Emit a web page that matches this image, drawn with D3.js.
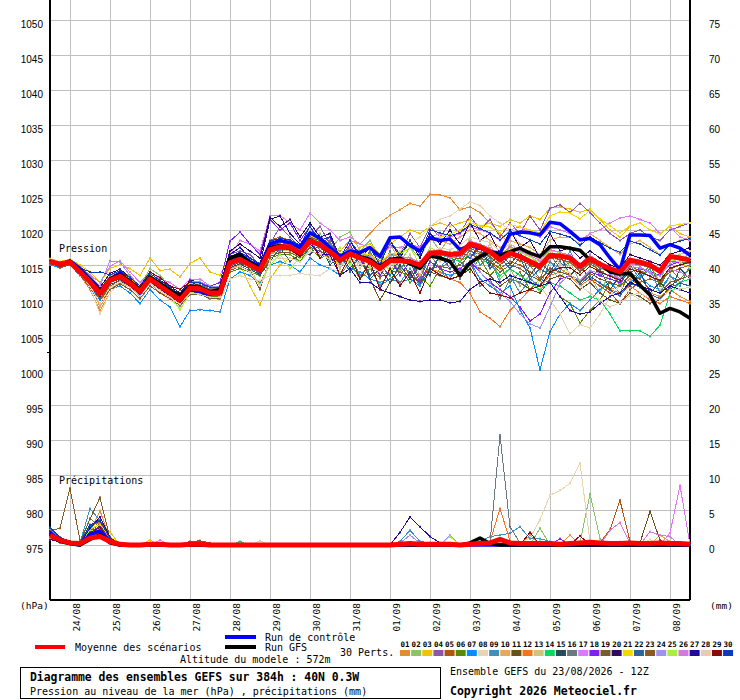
<!DOCTYPE html>
<html>
<head>
<meta charset="utf-8">
<script src="https://cdn.jsdelivr.net/npm/d3@7"></script>
<style>
body { margin: 0; background: #fff; }
svg { display: block; }
</style>
</head>
<body>
<div id="chart"></div>
<script>
// forecast steps every 6h, 0..384h from 23/08 12Z
const dayLabels = ["24/08","25/08","26/08","27/08","28/08","29/08","30/08","31/08",
  "01/09","02/09","03/09","04/09","05/09","06/09","07/09","08/09"]

const pertColors = ["#e88a33","#8ac46a","#f2c200","#8e55aa","#b5540c","#5a8a0a","#0a8cff","#e8d5b0",
  "#3a90c0","#e8a858","#6a5018","#f87020","#d4c080","#0ad860","#284a5a","#6a7880","#e078f8","#8020f0",
  "#7a5a30","#30086a","#f2d800","#2a64a0","#8a5a20","#a090f0","#a8f040","#d878d8","#200a9a","#e0d0b0",
  "#8a0a0a","#0a3cba"]

const pressMean = [
  1015.5,1015.1,1015.4,1014.0,1012.6,1010.9,1012.8,1013.4,1012.4,1011.2,1013.0,1012.0,1011.0,
  1010.0,1011.7,1011.6,1011.0,1011.0,1015.3,1015.8,1015.0,1014.3,1017.2,1017.6,1017.6,1016.7,
  1018.4,1017.9,1016.9,1015.7,1016.6,1016.0,1015.5,1014.5,1015.6,1015.6,1015.5,1015.0,1016.7,
  1016.8,1016.5,1016.6,1018.0,1017.6,1016.9,1015.7,1016.7,1016.2,1015.5,1014.8,1016.4,1016.3,
  1016.0,1014.8,1015.9,1015.1,1014.5,1014.0,1015.7,1015.4,1015.0,1014.1,1016.2,1016.0,1015.7]

const pressControl = [
  1015.5,1015.0,1015.6,1014.5,1013.0,1011.0,1013.0,1013.8,1012.5,1011.0,1013.2,1012.0,1011.2,
  1010.2,1011.5,1011.2,1010.8,1011.5,1015.5,1016.5,1015.5,1014.8,1018.0,1018.5,1018.2,1017.5,
  1019.6,1018.8,1017.5,1016.2,1017.0,1016.8,1017.5,1016.2,1018.9,1019.0,1017.8,1017.0,1018.9,
  1018.5,1018.7,1017.2,1017.8,1017.4,1016.9,1016.7,1019.4,1019.7,1019.6,1019.3,1021.1,1020.9,
  1019.8,1018.6,1018.8,1017.9,1016.0,1014.3,1019.3,1019.3,1019.2,1017.4,1017.9,1017.4,1016.4]

const pressGFS = [
  1015.5,1015.2,1015.5,1014.2,1012.8,1011.2,1013.0,1013.6,1012.7,1011.5,1013.3,1012.4,1011.4,
  1010.6,1012.0,1011.8,1011.2,1011.5,1016.0,1016.5,1015.3,1014.6,1017.5,1017.8,1017.5,1016.5,
  1018.6,1017.8,1016.8,1015.6,1016.5,1016.2,1015.8,1014.8,1015.8,1016.0,1015.2,1014.5,1016.3,
  1016.0,1015.5,1013.5,1015.3,1016.2,1016.9,1016.4,1016.9,1017.4,1016.7,1016.2,1017.6,1017.6,
  1017.4,1017.1,1015.7,1015.2,1014.0,1013.7,1013.8,1012.1,1010.7,1008.1,1008.8,1008.3,1007.4]

const pressPerts = [
  [1015.3,1014.8,1015.2,1013.5,1011.5,1008.5,1011.0,1012.5,1012.0,1010.5,1012.5,1011.0,1010.5,
   1009.5,1011.0,1011.0,1010.5,1010.0,1014.5,1015.0,1014.5,1013.5,1016.5,1017.5,1017.0,1016.5,
   1018.5,1018.0,1017.5,1017.0,1018.5,1018.0,1019.5,1021.0,1022.1,1022.9,1023.8,1023.4,1025.1,
   1025.0,1024.6,1022.9,1023.3,1022.5,1021.0,1019.5,1018.0,1017.0,1016.5,1015.0,1015.5,1014.5,
   1013.5,1012.0,1013.0,1012.5,1011.5,1012.0,1013.0,1012.0,1011.0,1010.5,1011.5,1010.5,1009.8],
  [1015.8,1015.3,1015.6,1014.5,1013.5,1011.5,1013.5,1014.0,1013.5,1012.0,1014.5,1013.5,1012.0,
   1011.0,1012.5,1012.0,1011.5,1011.0,1015.0,1016.0,1015.5,1014.0,1016.5,1017.0,1017.5,1016.0,
   1018.0,1019.5,1017.0,1019.0,1019.7,1017.0,1018.5,1016.0,1018.0,1015.5,1017.5,1016.0,1019.0,
   1017.0,1019.0,1016.5,1018.5,1015.0,1016.5,1013.0,1014.5,1012.0,1013.5,1011.0,1014.5,1013.0,
   1015.5,1012.5,1013.5,1011.0,1014.0,1012.0,1015.5,1013.5,1015.0,1012.5,1016.5,1015.0,1017.0],
  [1015.9,1015.5,1015.8,1015.0,1014.0,1012.5,1014.5,1015.0,1014.5,1013.5,1016.0,1014.2,1014.4,
   1013.3,1015.2,1016.0,1014.0,1013.5,1016.5,1015.0,1012.0,1009.3,1013.0,1015.0,1016.0,1015.5,
   1017.0,1016.5,1016.0,1015.0,1016.0,1017.5,1018.0,1016.5,1018.0,1019.0,1020.0,1019.5,1020.5,
   1021.0,1020.5,1021.0,1021.5,1020.5,1021.0,1020.5,1021.5,1021.0,1022.0,1021.5,1023.1,1023.3,
   1023.0,1022.5,1023.0,1021.5,1020.0,1019.0,1020.5,1021.0,1020.0,1019.5,1020.5,1019.5,1019.0],
  [1015.6,1015.0,1015.3,1014.2,1012.8,1011.2,1013.5,1014.0,1012.8,1011.5,1013.5,1012.5,1011.5,
   1010.5,1012.5,1012.5,1011.5,1011.5,1016.5,1017.0,1016.5,1015.0,1018.0,1020.5,1019.0,1017.5,
   1019.0,1020.5,1018.0,1016.0,1018.5,1016.0,1017.5,1015.5,1018.0,1016.5,1019.5,1017.5,1020.5,
   1019.0,1021.0,1019.5,1022.0,1020.0,1021.5,1019.0,1021.0,1019.5,1022.0,1020.0,1023.1,1023.6,
   1022.5,1023.8,1022.5,1021.0,1019.5,1018.5,1019.5,1020.0,1019.0,1018.5,1020.0,1020.5,1021.0],
  [1015.4,1015.0,1015.2,1013.8,1012.2,1010.0,1012.0,1012.8,1011.8,1010.5,1012.5,1011.5,1010.5,
   1009.5,1011.0,1011.0,1010.5,1010.5,1015.0,1016.5,1015.5,1015.0,1018.5,1019.0,1018.5,1017.5,
   1019.5,1019.0,1018.0,1016.5,1017.5,1016.5,1015.5,1014.5,1015.0,1015.5,1015.0,1014.5,1016.0,
   1016.5,1016.0,1015.5,1017.0,1016.5,1015.5,1014.5,1015.5,1015.0,1014.0,1013.0,1014.5,1014.0,
   1013.5,1012.0,1013.0,1012.0,1011.0,1009.5,1011.5,1012.5,1013.0,1012.5,1014.0,1014.5,1015.0],
  [1015.2,1014.8,1015.0,1013.5,1012.0,1010.5,1012.5,1013.0,1012.0,1011.0,1012.8,1011.8,1011.0,
   1009.8,1011.5,1011.0,1010.5,1010.5,1014.0,1014.5,1014.0,1013.5,1016.0,1016.5,1016.5,1015.5,
   1017.5,1016.0,1016.5,1013.5,1015.5,1013.0,1014.5,1012.0,1013.0,1014.5,1012.5,1013.5,1012.0,
   1014.5,1013.0,1015.5,1014.0,1016.0,1013.5,1015.0,1012.5,1014.0,1011.5,1013.0,1012.5,1010.5,
   1009.5,1006.7,1008.5,1010.0,1012.5,1011.0,1014.0,1013.0,1015.0,1012.0,1014.5,1013.0,1014.5],
  [1015.0,1014.6,1015.0,1013.5,1012.0,1010.0,1011.5,1012.0,1011.0,1009.5,1011.5,1010.0,1009.0,
   1006.2,1008.5,1008.6,1008.5,1008.3,1013.0,1014.0,1013.5,1012.5,1015.0,1015.5,1015.0,1014.0,
   1016.0,1015.0,1014.5,1013.5,1014.5,1014.0,1013.0,1012.5,1013.0,1012.5,1013.0,1012.0,1014.5,
   1014.0,1013.5,1014.0,1015.5,1013.0,1012.0,1011.0,1012.0,1008.6,1006.0,1000.0,1005.5,1008.0,
   1009.5,1008.5,1010.0,1011.5,1012.5,1011.0,1012.5,1013.5,1012.0,1011.5,1013.5,1012.5,1012.0],
  [1015.3,1014.9,1015.2,1013.5,1011.8,1008.0,1011.0,1012.5,1011.5,1010.0,1012.0,1011.0,1010.0,
   1009.0,1011.0,1011.0,1010.0,1010.0,1013.0,1013.5,1013.0,1012.8,1013.5,1013.5,1013.5,1013.8,
   1013.6,1013.5,1014.5,1014.0,1015.0,1015.5,1016.0,1015.0,1016.5,1017.0,1018.0,1019.0,1020.5,
   1021.5,1022.0,1023.0,1024.0,1023.5,1022.0,1021.0,1020.0,1018.0,1015.0,1012.0,1010.0,1008.0,
   1005.2,1006.5,1006.0,1008.0,1010.5,1012.0,1011.0,1010.0,1011.0,1011.5,1013.0,1012.5,1012.0],
  [1015.6,1015.2,1015.5,1014.3,1013.0,1011.5,1013.0,1013.8,1012.8,1011.5,1013.5,1012.5,1011.5,
   1010.5,1012.0,1012.0,1011.5,1011.5,1015.5,1016.0,1015.0,1014.5,1017.5,1018.0,1018.0,1017.0,
   1019.0,1017.5,1018.0,1014.5,1016.5,1013.5,1015.0,1012.0,1014.0,1012.5,1014.5,1012.0,1015.5,
   1014.5,1016.5,1014.0,1017.5,1015.0,1016.0,1012.5,1013.5,1011.0,1013.0,1012.0,1015.5,1014.0,
   1017.0,1014.0,1016.5,1013.5,1015.0,1012.0,1015.0,1013.0,1014.5,1011.0,1013.5,1012.0,1015.0],
  [1015.4,1015.1,1015.3,1013.8,1012.3,1009.0,1011.5,1012.5,1011.8,1010.5,1012.5,1011.5,1010.5,
   1009.5,1011.0,1011.5,1011.0,1010.5,1015.5,1016.5,1015.0,1014.0,1017.0,1017.5,1018.0,1017.0,
   1018.5,1018.5,1017.5,1016.5,1017.0,1016.5,1016.5,1015.5,1016.5,1016.5,1017.5,1017.0,1018.5,
   1018.5,1018.0,1019.0,1020.0,1019.5,1018.5,1017.5,1018.5,1018.0,1017.5,1016.5,1018.5,1019.0,
   1019.0,1018.0,1019.5,1018.5,1017.5,1016.5,1018.0,1018.5,1017.5,1016.5,1018.0,1018.5,1019.0],
  [1015.5,1015.0,1015.4,1014.0,1012.5,1010.5,1012.5,1013.0,1012.0,1011.0,1012.8,1011.5,1010.8,
   1009.8,1011.5,1011.5,1011.0,1011.0,1015.5,1016.0,1015.0,1014.5,1017.5,1018.5,1018.0,1017.0,
   1019.5,1018.5,1017.0,1015.5,1016.5,1016.0,1013.0,1010.0,1012.5,1014.0,1013.5,1012.5,1014.0,
   1013.5,1013.0,1013.5,1015.0,1014.5,1013.5,1012.0,1013.0,1012.5,1011.5,1011.0,1013.0,1013.5,
   1013.0,1011.5,1012.5,1011.0,1010.0,1009.5,1011.0,1010.5,1009.5,1010.0,1012.0,1013.0,1013.5],
  [1015.5,1015.1,1015.4,1014.2,1012.8,1011.0,1013.0,1013.5,1012.5,1011.2,1013.0,1012.0,1011.0,
   1010.0,1011.8,1011.5,1011.0,1011.0,1015.5,1016.0,1015.0,1014.5,1017.5,1018.0,1017.5,1016.5,
   1018.5,1018.0,1017.0,1016.0,1016.5,1016.0,1015.5,1014.5,1015.0,1014.5,1014.0,1013.5,1014.5,
   1014.0,1013.0,1012.5,1011.0,1008.3,1007.4,1006.2,1008.5,1010.0,1011.5,1012.0,1013.5,1014.0,
   1013.5,1012.0,1013.0,1012.5,1011.5,1011.0,1012.0,1011.0,1010.0,1009.5,1010.5,1010.0,1009.5],
  [1015.4,1015.0,1015.3,1013.8,1012.4,1010.5,1012.5,1013.2,1012.2,1011.0,1012.8,1011.8,1010.8,
   1009.8,1011.5,1011.3,1010.8,1010.8,1014.8,1015.5,1014.8,1014.0,1016.8,1017.2,1017.0,1016.2,
   1018.5,1016.5,1017.5,1014.5,1017.0,1014.5,1016.5,1013.0,1016.5,1014.0,1016.5,1013.5,1017.0,
   1015.5,1017.0,1015.5,1019.0,1016.0,1018.0,1015.0,1018.0,1015.5,1017.0,1014.0,1017.5,1015.0,
   1015.5,1014.0,1015.5,1014.5,1014.0,1013.5,1015.0,1015.5,1015.0,1014.5,1016.0,1016.5,1017.0],
  [1015.6,1015.2,1015.5,1014.2,1012.8,1011.2,1013.2,1013.8,1012.8,1011.5,1013.3,1012.3,1011.3,
   1010.3,1012.0,1012.0,1011.3,1011.3,1015.5,1016.2,1015.3,1014.8,1017.8,1018.3,1018.0,1017.2,
   1019.0,1018.3,1017.3,1016.0,1017.0,1016.5,1016.0,1015.0,1016.0,1016.0,1015.5,1015.0,1016.5,
   1016.5,1016.0,1015.5,1016.5,1016.0,1015.0,1013.5,1014.5,1013.5,1012.5,1011.5,1012.5,1012.0,
   1011.0,1010.0,1010.5,1010.0,1008.0,1005.6,1005.6,1005.6,1004.8,1006.4,1011.0,1012.5,1013.0],
  [1015.3,1014.9,1015.2,1013.7,1012.2,1010.2,1012.2,1012.8,1011.8,1010.6,1012.4,1011.4,1010.4,
   1009.4,1011.2,1011.0,1010.4,1010.4,1014.6,1015.2,1014.4,1013.6,1015.5,1017.5,1015.5,1016.5,
   1016.5,1018.0,1015.0,1016.5,1014.5,1016.5,1013.0,1014.5,1012.5,1015.0,1013.0,1015.0,1013.5,
   1016.5,1014.5,1017.0,1016.0,1018.0,1015.0,1017.0,1015.0,1017.0,1013.5,1015.5,1014.0,1016.5,
   1013.5,1015.0,1013.0,1014.5,1011.5,1013.5,1012.0,1014.0,1011.0,1012.5,1011.0,1014.5,1013.0],
  [1015.5,1015.2,1015.5,1014.2,1012.8,1011.4,1013.4,1014.0,1013.0,1011.8,1013.6,1012.6,1011.6,
   1010.6,1012.4,1012.2,1011.6,1011.6,1015.8,1016.4,1015.6,1014.8,1017.8,1018.4,1018.2,1017.4,
   1019.5,1017.0,1018.5,1015.0,1018.0,1015.0,1017.0,1014.0,1017.0,1014.5,1016.0,1013.0,1016.5,
   1014.5,1015.5,1013.0,1015.5,1012.0,1013.0,1010.2,1013.0,1012.5,1015.0,1013.0,1016.5,1014.5,
   1015.4,1014.2,1015.4,1014.6,1014.0,1013.4,1015.2,1015.0,1014.6,1014.0,1015.6,1015.4,1015.2],
  [1015.7,1015.3,1015.7,1014.6,1013.6,1012.5,1014.8,1015.6,1014.0,1012.5,1014.0,1013.0,1012.5,
   1011.5,1013.0,1013.0,1012.0,1012.0,1016.5,1018.5,1018.0,1017.0,1022.0,1022.1,1021.0,1020.0,
   1022.4,1021.0,1020.0,1018.5,1019.0,1018.0,1017.5,1016.5,1017.5,1017.5,1018.0,1017.5,1019.0,
   1019.5,1019.0,1019.5,1020.5,1020.0,1019.5,1018.5,1020.0,1020.5,1019.5,1019.0,1020.5,1020.0,
   1019.5,1018.5,1019.5,1020.0,1021.0,1021.7,1022.0,1021.5,1021.0,1019.5,1020.5,1019.0,1018.5],
  [1015.5,1015.0,1015.3,1014.0,1012.7,1011.0,1013.0,1013.6,1012.6,1011.4,1013.2,1012.2,1011.4,
   1010.4,1012.2,1012.4,1012.0,1012.5,1018.4,1019.7,1018.0,1016.5,1021.5,1020.0,1021.0,1018.5,
   1020.5,1018.0,1019.0,1015.5,1018.0,1015.0,1016.5,1013.5,1016.0,1013.5,1015.5,1012.5,1015.5,
   1014.5,1014.0,1014.5,1015.5,1014.0,1012.5,1011.5,1010.5,1009.0,1007.0,1008.0,1011.0,1013.0,
   1013.5,1012.5,1014.0,1013.5,1013.0,1012.5,1014.0,1014.5,1014.0,1013.5,1015.0,1015.5,1016.0],
  [1015.3,1014.7,1015.0,1013.6,1011.8,1009.5,1011.5,1012.3,1011.5,1010.2,1012.0,1011.0,1010.2,
   1009.2,1010.8,1010.8,1010.2,1010.2,1014.2,1014.8,1014.2,1011.5,1016.2,1016.8,1016.8,1016.0,
   1017.5,1017.0,1016.0,1014.8,1015.8,1015.2,1014.5,1013.2,1014.2,1014.0,1013.5,1012.8,1014.5,
   1014.8,1014.5,1015.0,1016.5,1016.0,1015.5,1014.0,1015.0,1014.5,1013.5,1012.8,1014.5,1014.0,
   1013.5,1012.5,1013.8,1013.0,1012.5,1012.0,1013.5,1013.0,1011.5,1011.0,1012.5,1013.0,1013.5],
  [1015.6,1015.2,1015.6,1014.4,1013.2,1011.8,1013.8,1014.4,1013.2,1012.0,1013.8,1012.8,1012.0,
   1011.0,1012.8,1012.6,1012.0,1012.0,1017.0,1018.0,1017.0,1016.0,1021.8,1020.5,1021.5,1019.0,
   1021.0,1019.0,1019.5,1016.0,1018.5,1016.0,1017.5,1015.0,1018.5,1016.0,1018.5,1016.0,1019.5,
   1018.0,1020.0,1018.0,1021.0,1018.5,1019.5,1016.5,1020.0,1017.5,1018.5,1016.0,1019.5,1017.0,
   1017.5,1016.0,1017.0,1016.0,1015.0,1014.5,1016.5,1016.0,1015.5,1015.0,1016.5,1017.0,1017.5],
  [1015.5,1015.1,1015.4,1014.2,1012.9,1011.4,1013.4,1014.0,1013.0,1012.0,1013.6,1012.6,1011.6,
   1010.6,1012.4,1012.4,1011.8,1011.8,1015.8,1016.4,1015.6,1015.0,1018.0,1018.4,1018.2,1017.4,
   1019.2,1018.6,1017.6,1016.4,1017.4,1016.8,1016.4,1015.4,1016.6,1016.8,1017.4,1017.0,1018.6,
   1019.0,1019.4,1020.0,1021.0,1020.6,1020.4,1019.6,1020.8,1020.4,1020.0,1019.6,1022.0,1022.6,
   1022.4,1021.6,1022.8,1021.6,1020.6,1019.6,1020.6,1021.0,1020.0,1019.4,1020.6,1020.8,1021.0],
  [1015.4,1015.0,1015.3,1013.9,1012.4,1010.6,1012.6,1013.2,1012.2,1011.0,1012.8,1011.8,1010.8,
   1009.8,1011.4,1011.2,1010.6,1010.6,1014.8,1015.4,1014.6,1013.8,1016.8,1017.2,1017.2,1016.2,
   1017.0,1018.5,1015.5,1016.5,1014.0,1016.5,1013.5,1015.0,1013.5,1016.0,1013.5,1015.5,1014.0,
   1016.5,1014.5,1017.0,1016.0,1017.5,1014.5,1016.0,1014.5,1016.0,1013.0,1014.5,1013.5,1015.5,
   1013.6,1012.2,1013.4,1012.4,1011.4,1010.6,1012.4,1011.8,1010.8,1010.2,1011.8,1012.4,1012.0],
  [1015.6,1014.6,1015.0,1013.8,1012.4,1010.2,1012.0,1012.8,1012.0,1011.0,1012.6,1011.6,1010.8,
   1009.8,1011.4,1011.2,1010.8,1010.8,1015.0,1016.0,1015.2,1014.6,1017.6,1018.2,1018.0,1017.2,
   1019.0,1018.4,1017.4,1016.2,1016.8,1016.2,1015.6,1014.6,1015.6,1015.4,1015.2,1014.6,1016.2,
   1016.2,1015.6,1016.0,1017.4,1016.8,1016.2,1015.0,1016.2,1015.6,1015.0,1014.4,1016.0,1015.8,
   1015.4,1014.0,1015.2,1014.2,1013.4,1013.0,1014.8,1014.2,1013.4,1012.6,1014.4,1015.0,1015.6],
  [1015.6,1015.2,1015.6,1014.6,1013.5,1012.0,1015.6,1015.4,1013.5,1012.0,1013.8,1012.8,1011.8,
   1010.8,1012.6,1012.6,1012.0,1012.0,1016.0,1016.8,1016.0,1015.2,1018.2,1018.6,1018.4,1017.6,
   1019.4,1018.6,1017.6,1016.4,1017.4,1016.6,1016.2,1015.2,1016.4,1016.2,1016.0,1015.4,1016.8,
   1016.6,1016.0,1016.2,1016.4,1014.0,1012.4,1011.0,1009.8,1008.0,1006.6,1006.0,1009.0,1012.4,
   1013.6,1012.8,1014.2,1013.8,1013.6,1013.0,1014.6,1014.6,1014.0,1013.4,1015.2,1015.6,1016.0],
  [1015.5,1015.0,1015.4,1014.0,1012.6,1010.8,1012.6,1013.2,1012.2,1011.0,1012.8,1011.8,1010.6,
   1008.6,1011.0,1011.4,1010.8,1010.8,1015.0,1015.6,1014.6,1012.0,1015.0,1016.5,1014.5,1016.0,
   1017.0,1019.0,1016.0,1017.5,1015.0,1017.0,1014.5,1016.5,1014.0,1016.5,1017.5,1015.0,1017.5,
   1016.8,1016.4,1016.8,1018.2,1017.8,1017.2,1016.2,1017.4,1016.8,1016.2,1015.4,1017.0,1016.8,
   1016.4,1015.0,1016.2,1015.4,1014.6,1014.2,1015.8,1015.6,1015.0,1014.2,1015.8,1015.4,1014.6],
  [1015.6,1015.1,1015.5,1014.2,1012.8,1011.2,1013.2,1013.8,1012.8,1011.6,1013.4,1012.4,1011.4,
   1010.4,1012.0,1011.8,1011.2,1011.2,1015.6,1016.2,1015.4,1014.6,1017.6,1018.0,1018.0,1017.0,
   1018.8,1018.2,1017.2,1016.0,1016.8,1016.2,1015.8,1014.6,1015.8,1015.8,1015.6,1015.0,1016.8,
   1017.0,1016.8,1017.0,1018.4,1018.0,1017.4,1016.4,1017.6,1017.0,1016.4,1015.6,1017.2,1016.8,
   1016.4,1015.2,1016.4,1015.4,1014.2,1013.0,1015.2,1014.8,1013.8,1012.8,1014.4,1014.0,1013.2],
  [1015.4,1015.0,1015.2,1013.8,1012.4,1010.6,1012.6,1013.0,1012.0,1010.8,1012.6,1011.6,1010.6,
   1009.6,1011.4,1011.4,1010.8,1010.8,1016.5,1017.5,1016.0,1015.0,1021.5,1022.0,1019.5,1018.0,
   1018.0,1016.5,1016.5,1013.5,1014.5,1012.5,1012.5,1011.5,1011.0,1010.5,1010.0,1009.8,1010.0,
   1010.0,1009.6,1009.8,1011.5,1012.5,1013.0,1012.5,1013.5,1013.0,1012.5,1012.0,1012.5,1010.5,
   1008.5,1008.0,1008.3,1009.5,1010.5,1011.0,1012.5,1012.0,1011.5,1011.0,1012.0,1011.5,1011.0],
  [1015.4,1015.0,1015.3,1013.7,1012.0,1009.5,1011.8,1012.6,1011.8,1010.6,1012.4,1011.4,1010.4,
   1009.4,1011.0,1010.8,1010.4,1010.4,1014.4,1014.8,1014.0,1012.0,1015.6,1016.0,1016.0,1015.4,
   1017.0,1016.6,1015.8,1014.8,1015.8,1015.2,1014.8,1014.0,1015.0,1015.4,1015.4,1015.0,1016.8,
   1017.4,1017.2,1017.8,1019.0,1018.6,1018.2,1017.0,1018.0,1017.2,1016.6,1015.8,1016.6,1015.2,
   1013.8,1012.0,1011.0,1010.0,1009.0,1009.6,1010.6,1011.0,1010.2,1010.0,1011.4,1011.6,1011.8],
  [1015.6,1015.1,1015.5,1014.3,1012.9,1011.4,1013.2,1014.0,1013.2,1012.0,1014.0,1013.2,1012.0,
   1011.5,1012.6,1012.0,1011.2,1011.0,1015.2,1015.6,1014.8,1014.0,1017.0,1017.4,1017.2,1016.2,
   1018.5,1016.0,1017.5,1013.5,1016.5,1013.0,1015.5,1011.5,1014.5,1012.0,1014.0,1011.0,1014.5,
   1013.6,1013.0,1013.4,1014.5,1012.5,1011.0,1010.7,1010.3,1011.0,1011.5,1012.0,1014.0,1014.6,
   1014.6,1013.6,1014.8,1014.0,1013.4,1012.8,1014.4,1014.0,1013.4,1012.8,1014.6,1015.0,1015.4],
  [1015.6,1015.3,1015.6,1014.6,1014.0,1014.0,1013.6,1014.2,1013.2,1012.0,1013.8,1012.8,1011.8,
   1010.8,1012.6,1012.4,1011.8,1011.8,1016.2,1016.8,1016.0,1015.2,1018.4,1018.8,1018.6,1017.8,
   1020.5,1018.5,1019.0,1016.0,1018.5,1016.5,1017.5,1015.0,1018.5,1016.5,1018.5,1016.5,1020.0,
   1019.6,1019.2,1019.6,1020.8,1020.2,1019.6,1018.6,1019.8,1019.2,1018.6,1018.0,1019.8,1019.4,
   1019.0,1017.8,1019.0,1018.2,1017.4,1016.8,1018.4,1018.0,1017.2,1016.4,1018.0,1018.4,1018.8]
]

// precipitation (mm per 6h step)
const precipMean = [
  1.4,0.7,0.3,0.2,1.0,1.2,0.5,0.1,0,0,0.1,0.1,0,
  0,0.1,0.1,0,0,0,0,0,0,0,0,0,0,
  0,0,0,0,0,0,0,0,0,0.1,0.2,0.1,0.1,
  0.1,0.1,0,0.1,0.2,0.3,0.8,0.3,0.2,0.2,0.2,0.2,0.1,
  0.2,0.3,0.4,0.3,0.2,0.2,0.3,0.2,0.2,0.3,0.2,0.2,0.1]

const precipControl = [
  1.8,0.6,0.2,0,1.5,2.0,0.5,0,0,0,0,0,0,
  0,0,0,0,0,0,0,0,0,0,0,0,0,
  0,0,0,0,0,0,0,0,0,0,0,0,0,
  0,0,0,0,0,0,0,0,0,0,0,0,0,
  0,0,0,0,0,0,0,0,0,0,0,0,0]

const precipGFS = [
  1.5,0.5,0.2,0,0.8,1.5,0.3,0,0,0,0,0,0,
  0,0,0,0,0,0,0,0,0,0,0,0,0,
  0,0,0,0,0,0,0,0,0,0,0,0,0,
  0,0,0,0.3,1.0,0.2,0,0,0,0,0,0,0,
  0,0,0,0,0,0,0,0,0,0,0,0,0]

const precipPerts = [
  [1.2,0.6,0.2,0.3,2.0,4.9,0.8,0,0,0,0,0,0, 0,0,0,0,0,0,0,0,0,0,0,0,0, 0,0,0,0,0,0,0,0,0,0,0,0,0,
   0,0,0,0,0,0,0,0,0,1.4,0,0,0, 1.4,0,0,0,0,0,0,0,0,0.3,0,0,0],
  [0.9,0.5,0.3,0.2,1.5,1.0,0.4,0,0,0,0,0,0, 0,0,0,0,0,0,0,0,0,0,0,0,0, 0,0,0,0,0,0,0,0,0,0,0,0,0,
   0,0,0,0,0,0,0,0,0,0,2.4,0,0, 0,0.3,7.3,0.9,0,0,0,0,0,0,0,0,0],
  [1.5,0.8,0.4,0.3,2.5,2.0,1.9,0,0,0,0.7,0,0, 0,0,0,0,0,0,0,0,0,0,0,0,0, 0,0,0,0,0,0,0,0,0,0,0,0.2,0,
   0,0,0,0,0,0,0,0,0,0,0,0,0, 0,0,0,0,0,0,0,0,0,0,0,0,0],
  [1.0,0.4,0.2,0.1,1.0,1.5,0.3,0,0,0,0,0,0, 0,0,0,0,0,0,0,0,0,0,0,0,0, 0,0,0,0,0,0,0,0,0,0,0,0,0,
   0,0,0,0,0,0,0,0,0,0,0,0.3,0, 0,0,0,0,0,0,0,0,0,0,0,0,0],
  [1.8,1.0,0.5,0.2,2.0,3.0,0.9,0,0,0,0,0,0, 0,0,0,0,0,0,0,0,0,0,0,0,0, 0,0,0,0,0,0,0,0,0,0,0,0,0,
   0,0,0,0,0,0,0,0,0,0,0,0,0, 0,0,0,0.3,2.2,6.4,0.5,0,0,0,0,0,0],
  [1.3,0.7,0.3,0.2,3.8,2.5,0.6,0,0,0,0,0,0, 0,0,0,0,0,0,0,0,0,0,0,0,0, 0,0,0,0,0,0,0,0,0,0,0,0,0,
   0,0,0,0,0,0,0,0,0,0,0,0,0, 0,0,0,0,0,0,0,0,0,0,0,0,0],
  [1.1,0.6,0.4,0.3,2.2,4.0,1.0,0,0,0,0,0,0, 0,0,0,0,0,0,0,0,0,0,0,0,0, 0,0,0,0,0,0,0,0,0,0,0,0,0,
   0,0,0,0,0,0,0,0,0,0,0,0.4,0, 0,0,0,0,0,0,0,0,0,0,0,0,0],
  [0.8,0.4,0.2,0.1,0.8,1.2,0.3,0,0,0,0,0,0, 0,0,0,0,0,0,0,0,0,0,0,0,0, 0,0,0,0,0,0,0,0,0,0,0,0,0,
   0,0,0,0,0,0,0,0,0.3,1.0,3.6,7.1,7.8, 8.8,11.7,0.5,0,0,0,0,0,0,0.3,0.6,0,0],
  [1.6,0.7,0.4,0.3,5.2,3.5,1.0,0,0,0,0,0,0, 0,0,0,0,0,0,0,0,0,0,0,0,0, 0,0,0,0,0,0,0,0,0,0.5,2.1,0.5,0.3,
   0.3,0.3,0,0,0.5,1.2,1.4,1.7,2.6,0.9,0.9,0.5,0, 0,0,0,0,0,0,0,0,0,0,0,0,0],
  [1.4,0.8,0.3,0.2,1.8,2.2,0.7,0,0,0,0,0,0, 0,0,0,0,0,0,0,0,0,0,0,0,0, 0,0,0,0,0,0,0,0,0,0,0,0,0,
   0,0,0,0,0,0,0,0,0,0,0,0,0, 0,0,0,0,0,0,0,0,0,1.4,0.5,0,0],
  [1.0,0.5,0.3,0.2,1.2,1.8,0.4,0,0,0,0,0,0, 0,0,0,0,0,0,0,0,0,0,0,0,0, 0,0,0,0,0,0,0,0,0,0,0,0,0,
   0,0,0,0,0,0,0,0,0,0,0,0,0, 0,0,0,0,0,0,0,0.3,4.8,0.7,0,0,0],
  [1.7,0.9,0.4,0.2,2.8,3.2,0.8,0,0,0,0,0,0, 0,0,0,0,0,0,0,0,0,0,0,0,0, 0,0,0,0,0,0,0,0,0,0,0,0,0,
   0,0,0,0,0,0.5,5.2,0.6,0,0,0,0,0, 0,0,0,0,0,0,0,0,0,0,0,0,0],
  [1.2,0.6,0.3,0.1,1.6,2.4,0.5,0,0,0,0,0,0, 0,0,0,0,0,0,0,0,0,0,0,0,0, 0,0,0,0,0,0,0,0,0,0,0,0,0,
   0,0,0,0,0,0,0,0,0,0,0,0,0, 0,0,0,0,0,0,0,0,0,0,0,0,0],
  [2.2,1.0,0.5,0.2,1.4,1.0,0.3,0,0,0,0,0,0, 0,0,0,0,0,0,0.5,0,0,0,0,0,0, 0,0,0,0,0,0,0,0,0,0,0,0,0,
   0,0,0,0,0,0,0,0,0,0,0.5,0,0, 0,0,0,0,0,0,0,0,0,0,0,0,0],
  [0.9,0.5,0.2,0.1,1.2,2.8,0.6,0,0,0,0,0,0, 0,0,0,0,0,0,0,0,0,0,0,0,0, 0,0,0,0,0,0,0,0,0,0,0,0,0,
   0,0,0,0,0,0,0,0,0,0,0,0,0, 0,0,0,0,0,0,0,0,0,0,0,0,0],
  [1.0,0.5,0.2,0.1,1.3,1.6,0.4,0,0,0,0,0,0, 0,0,0,0,0,0,0,0,0,0,0,0,0, 0,0,0,0,0,0,0,0,0,0,0,0,0,
   0,0,0,0,0,0.3,15.7,2.6,0.3,0,0,0,0, 0,0,0,0,0,0,0,0,0,0,0,0,0],
  [1.3,0.7,0.3,0.2,1.7,2.0,0.5,0,0,0,0,0.7,0, 0,0,0,0,0,0,0,0,0,0,0,0,0, 0,0,0,0,0,0,0,0,0,0,0,0,0,
   0,0,0,0,0,0,0,0,0,0,0,0,0, 0,0,0,0,0,0,0,0,0,0,1.7,8.5,0],
  [1.1,0.6,0.3,0.2,1.9,2.6,0.6,0,0,0,0,0,0, 0,0,0,0,0,0,0,0,0,0,0,0,0, 0,0,0,0,0,0,0,0,0,0,0,0,0,
   0,0,0,0,0,0,0,0,0,0,0,0,0.9, 0,0,0,0,0,0,0,0,0,0,0,0,0],
  [1.4,0.8,0.5,0.5,3.7,6.8,0.9,0,0,0,0,0,0, 0,0.5,0.6,0,0,0,0,0,0,0,0,0,0, 0,0,0,0,0,0,0,0,0,0,0,0,0,
   0,0,0,0,0,0,0,0,0,0,0,0,0, 0,0,0,0,0,0,0,0,0,0,0,0,0],
  [0.8,0.4,0.2,0.1,1.1,1.4,0.3,0,0,0,0,0,0, 0,0,0,0,0,0,0,0,0,0,0,0,0, 0,0,0,0,0,0,0,0,0,0,0,0,0,
   0,0,0,0,0,0,0,0,0,0,0,0,0, 0,0,0,0,0,0,0,0,0,0,0,0,0],
  [1.6,0.8,0.4,0.3,2.3,2.9,1.2,0,0,0,0,0,0, 0,0,0,0,0,0,0,0,0,0,0,0,0, 0,0,0,0,0,0,0,0,0,0,0.2,0,0,
   0,0,0,0,0,0,0,0,0,0,0,0,0, 0,0,0,0,0,0,0,0,0,0,0,0,0],
  [1.5,0.7,0.3,0.2,2.6,3.6,0.9,0,0,0,0,0,0, 0,0,0,0,0,0,0,0,0,0,0,0,0, 0,0,0,0,0,0,0,0,0,0,0.4,0,0,
   0,0,0,0,0,0,0,0,0,0,0,0,0, 0,0,0,0,0,0,0,0,0,0,0,0,0],
  [2.0,2.4,8.1,0.7,1.0,2.0,0.5,0,0,0,0,0,0, 0,0,0.6,0.3,0,0,0,0,0,0,0,0,0, 0,0,0,0,0,0,0,0,0,0,0,0,0,
   0,0,0,0,0,0,0,0,0,0,0,0,0, 0,0,0,0,0,0,0,0,0,0,0,0,0],
  [1.2,0.6,0.3,0.2,1.5,2.1,0.5,0,0,0,0,0,0, 0,0,0,0,0,0,0,0,0,0,0,0,0, 0,0,0,0,0,0,0,0,0,0.3,1.4,0.3,0,
   0,1.4,0,0,0,0,0,0,0,0,0,0,0, 0,0,0,0,0,0,0,0,0,0,0,0,0],
  [1.3,0.7,0.3,0.2,2.1,1.7,0.4,0,0,0,0,0,0, 0,0,0,0,0,0,0,0,0,0,0,0,0, 0,0,0,0,0,0,0,0,0,0,0,0,0,
   0,1.2,0,0,0,0,0,0,0,0,0,0,0, 0,0,0,0,0,0,0,0,0,0,0,0,0],
  [1.0,0.5,0.2,0.1,1.4,1.9,0.4,0,0,0,0,0,0, 0,0,0,0,0,0,0,0,0,0,0,0,0, 0,0,0,0,0,0,0,0,0,0,0,0,0,
   0,0,0,0,0,0,0,0,0,0,0,0,0, 0,0,0,0,2.1,3.2,0.3,0,1.9,1.4,1.2,0,0],
  [1.9,0.9,0.4,0.2,2.4,4.0,1.1,0,0,0,0,0,0, 0,0,0,0,0,0,0,0,0,0,0,0,0, 0,0,0,0,0,0,0,0,0,1.8,4.0,2.6,1.2,
   0.3,0,0,0,0,0,0,0,0,0,0,0,0, 0,0,0,0,0,0,0,0,0,0,0,0,0],
  [1.1,0.6,0.3,0.2,1.2,1.7,0.4,0,0,0,0,0,0, 0,0,0,0,0,0,0,0,0.6,0,0,0,0, 0,0,0,0,0,0,0,0,0,0,0,0,0,
   0,0,0,0,0,0,0,0,0,0,0,0,0, 0,0,0,0,0,0.5,0,0,0.8,0,0,0,0],
  [1.5,0.8,0.3,0.2,1.8,2.5,0.6,0,0,0,0,0,0, 0,0,0,0,0,0,0,0,0,0,0,0,0, 0,0,0,0,0,0,0,0,0,0,0,0,0,
   0,0,0,0,0,0,0,0,0,1.8,0,0,0, 0,1.3,0,0,0,0,0,0,0,0,0,0,0.3],
  [2.5,1.1,0.5,0.3,2.9,3.4,1.0,0,0,0,0,0,0, 0,0,0,0,0,0,0,0,0,0,0,0,0, 0,0,0,0,0,0,0,0,0,0,0,0,0,
   0,0,0,0,0,0,0,0,0,0,0,0,0, 0,0,0,0,0,0,0,0,0,0,0,0,0]
]

const hours = d3.range(0, 385, 6)

const W = 740, H = 700
const svg = d3.select("#chart").append("svg").attr("width", W).attr("height", H)
  .style("font-family", "'DejaVu Sans Mono', monospace")

const x = d3.scaleLinear().domain([0, 384]).range([50, 690])
const y = d3.scaleLinear().domain([975, 1050]).range([545, 20])
const ymm = d3.scaleLinear().domain([0, 75]).range([545, 20])

// horizontal grid + pressure labels
const gy = svg.append("g").attr("transform", "translate(50,0)")
  .call(d3.axisLeft(y).tickValues(d3.range(975, 1051, 5)).tickSize(-640).tickPadding(7)
    .tickFormat(d3.format("d")))
gy.select(".domain").remove()
gy.selectAll(".tick line").attr("stroke", "#c0c0c0").attr("shape-rendering", "crispEdges")
gy.selectAll(".tick text").attr("dy", "0.72em")
  .style("font-family", "'Liberation Sans', Arial, sans-serif").style("font-size", "10px").attr("fill", "#000")

// precip labels on the right
const gr = svg.append("g").attr("transform", "translate(690,0)")
  .call(d3.axisRight(ymm).tickValues(d3.range(0, 76, 5)).tickSize(0).tickPadding(19))
gr.select(".domain").remove()
gr.selectAll(".tick text").attr("dy", "0.72em")
  .style("font-family", "'Liberation Sans', Arial, sans-serif").style("font-size", "10px").attr("fill", "#000")

// vertical day grid + rotated dates
const gx = svg.append("g").attr("transform", "translate(0,600)")
  .call(d3.axisBottom(x).tickValues(d3.range(12, 384, 24)).tickSize(-600)
    .tickFormat((d, i) => dayLabels[i]))
gx.select(".domain").remove()
gx.selectAll(".tick line").attr("stroke", "#c0c0c0").attr("shape-rendering", "crispEdges")
gx.selectAll(".tick text")
  .attr("transform", "rotate(-90)").attr("text-anchor", "end")
  .attr("x", -3).attr("y", 9.5).attr("dy", 0)
  .style("font-family", "'DejaVu Sans Mono', monospace").style("font-size", "9.5px").attr("fill", "#000")

// frame
const frame = svg.append("g").attr("stroke", "#000").attr("shape-rendering", "crispEdges")
frame.append("line").attr("x1", 50).attr("x2", 50).attr("y1", 0).attr("y2", 600).attr("stroke-width", 2)
frame.append("line").attr("x1", 690).attr("x2", 690).attr("y1", 0).attr("y2", 600).attr("stroke-width", 2)
frame.append("line").attr("x1", 50).attr("x2", 690).attr("y1", 600).attr("y2", 600).attr("stroke-width", 2)
frame.append("line").attr("x1", 47).attr("x2", 50).attr("y1", 352).attr("y2", 352)

const lineP = d3.line().x((d, i) => x(hours[i])).y(d => y(d))
const lineR = d3.line().x((d, i) => x(hours[i])).y(d => ymm(d))

const plot = svg.append("g")

function drawMember(vals, line, scale, color) {
  plot.append("path").datum(vals).attr("d", line)
    .attr("fill", "none").attr("stroke", color).attr("stroke-width", 1)
    .attr("shape-rendering", "crispEdges")
  plot.append("g").selectAll("rect").data(vals).join("rect")
    .attr("x", (d, i) => x(hours[i]) - 1).attr("y", d => scale(d) - 1)
    .attr("width", 2).attr("height", 2).attr("fill", color)
}

pressPerts.forEach((vals, k) => drawMember(vals, lineP, y, pertColors[k]))
precipPerts.forEach((vals, k) => drawMember(vals, lineR, ymm, pertColors[k]))

function drawThick(vals, line, color, w) {
  plot.append("path").datum(vals).attr("d", line)
    .attr("fill", "none").attr("stroke", color).attr("stroke-width", w).attr("stroke-linejoin", "round")
}
drawThick(pressControl, lineP, "#0000ff", 3.5)
drawThick(precipControl, lineR, "#0000ff", 3.5)
drawThick(pressGFS, lineP, "#000000", 3.5)
drawThick(precipGFS, lineR, "#000000", 3.5)
drawThick(pressMean, lineP, "#ff0000", 5)
drawThick(precipMean, lineR, "#ff0000", 5)

// inner labels
svg.append("text").attr("x", 59).attr("y", 252).text("Pression").style("font-size", "10px")
svg.append("text").attr("x", 59).attr("y", 484).text("Précipitations").style("font-size", "10px")
svg.append("text").attr("x", 20).attr("y", 609).text("(hPa)").style("font-size", "9.5px")
svg.append("text").attr("x", 710).attr("y", 609).text("(mm)").style("font-size", "9.5px")

// legend
const leg = svg.append("g").style("font-size", "10px")
leg.append("line").attr("x1", 35).attr("x2", 65).attr("y1", 647).attr("y2", 647).attr("stroke", "#ff0000").attr("stroke-width", 4)
leg.append("text").attr("x", 75).attr("y", 651).text("Moyenne des scénarios")
leg.append("line").attr("x1", 225).attr("x2", 256).attr("y1", 637).attr("y2", 637).attr("stroke", "#0000ff").attr("stroke-width", 4)
leg.append("text").attr("x", 265).attr("y", 641).text("Run de contrôle")
leg.append("line").attr("x1", 225).attr("x2", 256).attr("y1", 647).attr("y2", 647).attr("stroke", "#000").attr("stroke-width", 4)
leg.append("text").attr("x", 265).attr("y", 651).text("Run GFS")
leg.append("text").attr("x", 180).attr("y", 663).text("Altitude du modele : 572m")
leg.append("text").attr("x", 340).attr("y", 656).text("30 Perts.")

const boxes = svg.append("g").selectAll("g").data(pertColors).join("g")
  .attr("transform", (d, i) => `translate(${400 + i * 11.14},0)`)
boxes.append("rect").attr("x", 0).attr("y", 650).attr("width", 10).attr("height", 6).attr("fill", d => d)
boxes.append("text").attr("x", 5).attr("y", 647).attr("text-anchor", "middle")
  .style("font-size", "7.5px").style("font-weight", "bold")
  .text((d, i) => String(i + 1).padStart(2, "0"))

// footer
svg.append("rect").attr("x", 20.5).attr("y", 667.5).attr("width", 420).attr("height", 31)
  .attr("fill", "none").attr("stroke", "#000")
svg.append("text").attr("x", 30).attr("y", 681).style("font-size", "11.4px").style("font-weight", "bold")
  .text("Diagramme des ensembles GEFS sur 384h : 40N 0.3W")
svg.append("text").attr("x", 30).attr("y", 695).style("font-size", "10px")
  .text("Pression au niveau de la mer (hPa) , précipitations (mm)")
svg.append("text").attr("x", 450).attr("y", 675).style("font-size", "10px")
  .text("Ensemble GEFS du 23/08/2026 - 12Z")
svg.append("text").attr("x", 450).attr("y", 695).style("font-size", "11.5px").style("font-weight", "bold")
  .text("Copyright 2026 Meteociel.fr")
</script>
</body>
</html>
